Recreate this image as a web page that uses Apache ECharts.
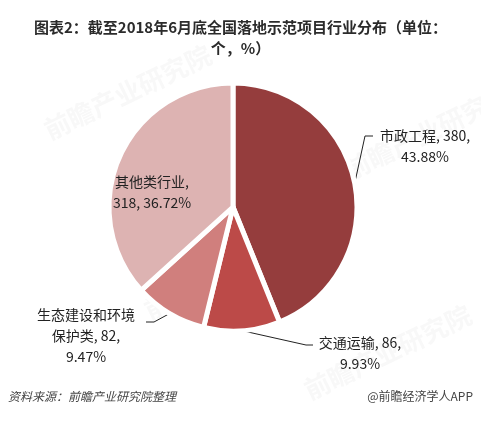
<!DOCTYPE html>
<html>
<head>
<meta charset="utf-8">
<script src="https://cdn.jsdelivr.net/npm/echarts@6/dist/echarts.min.js"></script>
<style>
  html, body { margin: 0; padding: 0; background: #fff; }
  #chart { width: 481px; height: 422px; }
</style>
</head>
<body>
<div id="chart"></div>
<script>
// Project counts by industry (units: projects, share of total)
var categories = ['市政工程', '交通运输', '生态建设和环境保护类', '其他类行业'];
var counts = [380, 86, 82, 318];
var shares = ['43.88%', '9.93%', '9.47%', '36.72%'];
var labelTexts = [
  '市政工程, 380,\n43.88%',
  '交通运输, 86,\n9.93%',
  '生态建设和环境\n保护类, 82,\n9.47%',
  '其他类行业,\n318, 36.72%'
];
var colors = ['#953d3d', '#bc4a48', '#d07f7d', '#ddb3b2'];

var FONT = '"Noto Sans CJK SC", "Noto Sans", sans-serif';

// Where each label sits, and how its guide line bends to reach it
var labelSpots = [
  { x: 425, y: 125, elbow: [365, 136], end: [373, 136] },
  { x: 360, y: 332, elbow: [306, 345], end: [313, 345] },
  { x: 86, y: 304, elbow: [154, 322], end: [146, 322] },
  { x: 152, y: 171 }
];

var chart = echarts.init(document.getElementById('chart'), null, { renderer: 'canvas' });

var data = categories.map(function (name, i) {
  var item = {
    name: name,
    value: counts[i],
    itemStyle: { color: colors[i] },
    label: { formatter: labelTexts[i] }
  };
  if (!labelSpots[i].elbow) {
    item.label.position = 'inside';
    item.labelLine = { show: false };
  }
  return item;
});

function watermark(x, y) {
  return {
    type: 'text',
    x: x, y: y,
    rotation: Math.PI / 7,
    silent: true,
    style: {
      text: '前瞻产业研究院',
      font: 'bold 26px ' + FONT,
      fill: 'rgba(120,120,120,0.05)'
    }
  };
}

chart.setOption({
  backgroundColor: '#fff',
  animation: false,
  title: {
    text: '图表2：截至2018年6月底全国落地示范项目行业分布（单位：\n个，%）',
    left: 'center',
    top: 12,
    textStyle: {
      fontFamily: FONT,
      fontSize: 15,
      fontWeight: 'bold',
      color: '#2b2b2b',
      lineHeight: 21
    }
  },
  graphic: [
    watermark(40, 120),
    watermark(340, 160),
    watermark(140, 300),
    watermark(300, 380),
    {
      type: 'text',
      left: 8,
      top: 390,
      style: {
        text: '资料来源：前瞻产业研究院整理',
        font: 'italic 12px ' + FONT,
        fill: '#444'
      }
    },
    {
      type: 'text',
      right: 8,
      top: 390,
      style: {
        text: '@前瞻经济学人APP',
        font: '12px ' + FONT,
        fill: '#444'
      }
    }
  ],
  series: [{
    type: 'pie',
    center: [233, 207],
    radius: ['0%', 124],
    startAngle: 90,
    clockwise: true,
    data: data,
    itemStyle: { borderColor: '#fff', borderWidth: 5 },
    label: {
      show: true,
      position: 'outside',
      fontFamily: FONT,
      fontSize: 14,
      lineHeight: 21,
      color: '#222',
      align: 'center',
      overflow: 'none',
      width: 140
    },
    labelLine: {
      show: true,
      length: 12,
      length2: 10,
      lineStyle: { color: '#222', width: 1 }
    },
    labelLayout: function (params) {
      var spot = labelSpots[params.dataIndex];
      var out = {
        x: spot.x,
        y: spot.y,
        align: 'center',
        verticalAlign: 'top'
      };
      if (spot.elbow) {
        var start = params.labelLinePoints ? params.labelLinePoints[0] : spot.elbow;
        out.labelLinePoints = [start, spot.elbow, spot.end];
      }
      return out;
    }
  }]
});
</script>
</body>
</html>
